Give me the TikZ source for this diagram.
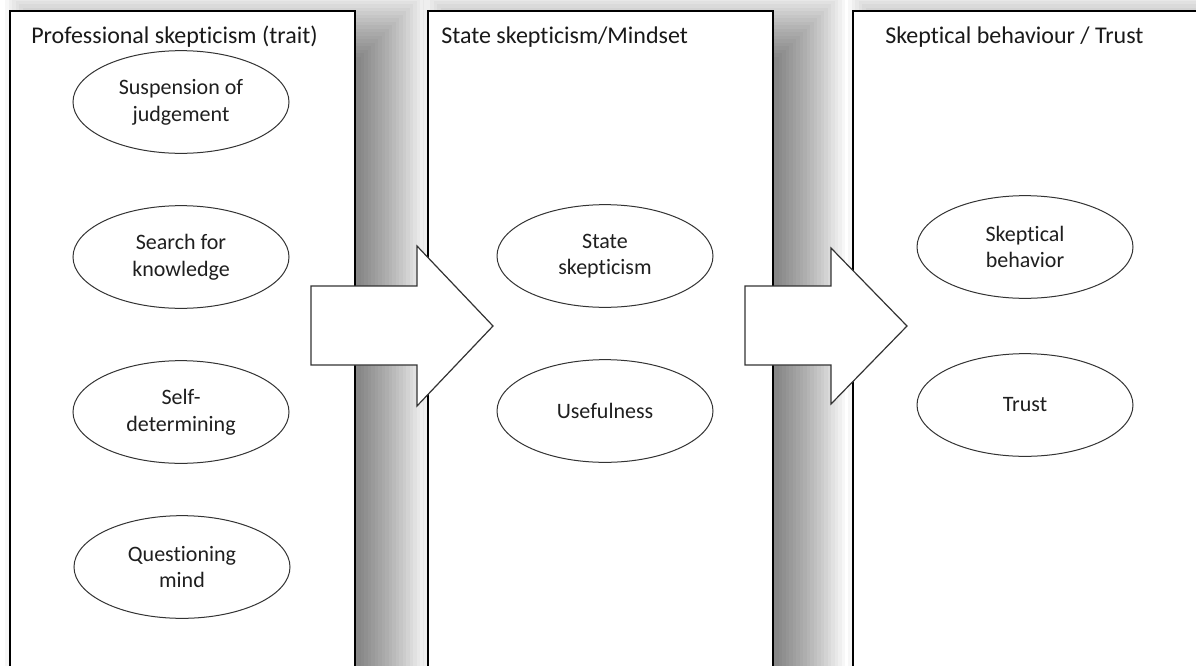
\documentclass[tikz,border=0pt]{standalone}
\usepackage{fontspec}
\setmainfont{Carlito}[Ligatures=NoCommon]
\usetikzlibrary{shapes.geometric}
\definecolor{linegray}{RGB}{51,51,51}

\begin{document}
\begin{tikzpicture}[x=0.75pt,y=0.75pt,yscale=-1,xscale=1,
  oval/.style={draw=linegray, line width=0.75pt, fill=white, ellipse, minimum width=162pt, minimum height=77pt, inner sep=0pt, align=center, font=\fontsize{16.5}{20}\selectfont, text=black!88},
  heading/.style={anchor=base west, inner sep=0pt, font=\fontsize{18}{22}\selectfont, text=black!90},
  panel/.style={draw=black, line width=1.2pt, fill=white},
  blockarrow/.style={draw=linegray, line width=0.9pt, fill=white, line join=miter}]
\useasboundingbox (0,0) rectangle (1196,665);

%Shadows behind the panels
\foreach \l/\r in {10/355, 428/773, 853/1198}{
  \foreach \i in {0,...,19}{
    \fill [black, opacity=0.032] (\l-5+3.5*\i, -10+3.5*\i) rectangle (\r+72-3.5*\i, 720);
  }
}

%Shape: Panels
\draw [panel] (10,11) rectangle (355,700);
\draw [panel] (428,11) rectangle (773,700);
\draw [panel] (853,11) rectangle (1198,700);

% Text Node
\draw (31,43) node [heading] {Professional skepticism (trait)};
% Text Node
\draw (441,43) node [heading] {State skepticism/Mindset};
% Text Node
\draw (885,43) node [heading] {Skeptical behaviour / Trust};

%Shape: Block arrows
\draw [blockarrow] (311,286) -- (417,286) -- (417,246) -- (493,326) -- (417,406) -- (417,365) -- (311,365) -- cycle;
\draw [blockarrow] (745,286) -- (831,286) -- (831,248) -- (907,326) -- (831,404) -- (831,365) -- (745,365) -- cycle;

%Shape: Ellipses, trait
\node [oval] (suspension) at (181,102) {Suspension of\\judgement};
\node [oval] (search) at (181,257) {Search for\\knowledge};
\node [oval] (selfdet) at (181,412) {Self-\\determining};
\node [oval] (questioning) at (182,567) {Questioning\\mind};
%Shape: Ellipses, state
\node [oval] (state) at (605,256) {State\\skepticism};
\node [oval] (usefulness) at (605,411) {Usefulness};
%Shape: Ellipses, behaviour
\node [oval] (behavior) at (1025,247) {Skeptical\\behavior};
\node [oval] (trust) at (1025,405) {Trust};

\end{tikzpicture}
\end{document}
